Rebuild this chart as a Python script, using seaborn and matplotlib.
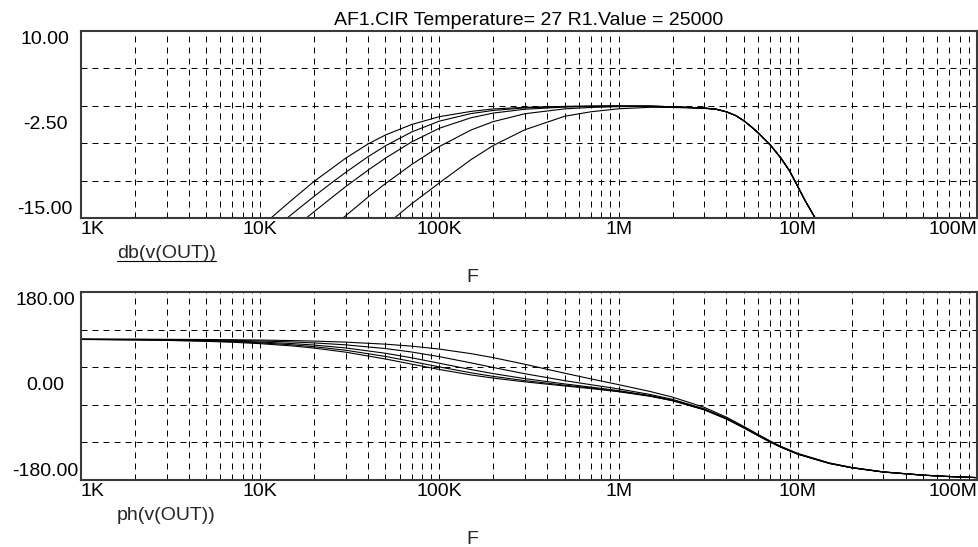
import numpy as np
import pandas as pd
import matplotlib
matplotlib.use("Agg")
import matplotlib.pyplot as plt
import seaborn as sns
from matplotlib.lines import Line2D
from matplotlib.ticker import FixedLocator, NullFormatter

sns.set_theme(style="white")
plt.rcParams["font.family"] = ["Liberation Sans", "DejaVu Sans"]

# ---------------- data ----------------
TITLE = "AF1.CIR Temperature= 27 R1.Value = 25000"
curves = ["c1", "c2", "c3", "c4", "c5"]

mag_freq = [10e3, 12e3, 15e3, 20e3, 25e3, 30e3, 40e3, 50e3, 70e3, 100e3, 150e3, 200e3,
            300e3, 500e3, 700e3, 1e6, 1.5e6, 2e6, 3e6, 3.5e6, 4e6, 4.5e6, 5e6, 5.5e6,
            6e6, 7e6, 8e6, 9e6, 10e6, 11e6, 12.5e6, 13e6]
mag_c1 = [-16.3, -14.6, -12.6, -10.1, -8.4, -7.0, -5.1, -3.9, -2.5, -1.45, -0.75, -0.42,
          -0.2, -0.08, -0.04, -0.02, -0.04, -0.13, -0.3, -0.45, -0.8, -1.3, -2.0, -2.8,
          -3.6, -5.2, -6.9, -8.7, -10.8, -12.7, -15.0, -15.7]
mag_c2 = [-17.9, -16.4, -14.5, -12.1, -10.3, -8.9, -6.8, -5.35, -3.5, -2.05, -1.04, -0.62,
          -0.28, -0.10, -0.05, -0.03, -0.04, -0.13, -0.3, -0.45, -0.8, -1.3, -2.0, -2.8,
          -3.6, -5.2, -6.9, -8.7, -10.8, -12.7, -15.0, -15.7]
mag_c3 = [-20.0, -18.5, -16.6, -14.15, -12.3, -10.8, -8.6, -7.0, -4.83, -3.0, -1.6, -0.97,
          -0.46, -0.17, -0.09, -0.04, -0.05, -0.13, -0.3, -0.45, -0.8, -1.3, -2.0, -2.8,
          -3.6, -5.2, -6.9, -8.7, -10.8, -12.7, -15.0, -15.7]
mag_c4 = [-24.0, -22.4, -20.5, -18.1, -16.2, -14.7, -12.2, -10.4, -7.85, -5.44, -3.24, -2.11,
          -1.06, -0.41, -0.22, -0.11, -0.08, -0.15, -0.31, -0.45, -0.8, -1.3, -2.0, -2.8,
          -3.6, -5.2, -6.9, -8.7, -10.8, -12.7, -15.0, -15.7]
mag_c5 = [-29.8, -28.2, -26.3, -23.8, -21.9, -20.4, -17.9, -16.0, -13.1, -10.3, -7.2, -5.3,
          -3.2, -1.4, -0.8, -0.4, -0.2, -0.22, -0.35, -0.48, -0.82, -1.32, -2.0, -2.8,
          -3.6, -5.2, -6.9, -8.7, -10.8, -12.7, -15.0, -15.7]

ph_freq = [1e3, 2e3, 3e3, 5e3, 7e3, 10e3, 15e3, 20e3, 30e3, 50e3, 70e3, 100e3, 150e3,
           200e3, 300e3, 500e3, 700e3, 1e6, 1.5e6, 2e6, 3e6, 4e6, 5e6, 6e6, 7e6, 8e6,
           10e6, 15e6, 20e6, 30e6, 50e6, 70e6, 100e6]
ph_c1 = [89.1, 88.2, 87.3, 85.5, 83.8, 81.1, 76.8, 72.6, 64.8, 51.7, 41.9, 31.6, 21.2,
         15.1, 7.9, 0.1, -4.9, -10.9, -19.7, -28.2, -45.5, -63.2, -80.2, -95.0, -107.1,
         -116.8, -130.5, -148.3, -156.6, -164.8, -170.8, -173.5, -175.5]
ph_c2 = [89.3, 88.5, 87.8, 86.3, 84.8, 82.6, 78.9, 75.3, 68.5, 56.6, 47.1, 36.5, 25.3,
         18.4, 10.3, 1.6, -3.8, -10.1, -19.2, -27.9, -45.2, -63.0, -80.0, -94.9, -107.0,
         -116.7, -130.5, -148.2, -156.6, -164.8, -170.8, -173.4, -175.5]
ph_c3 = [89.4, 88.8, 88.2, 87.1, 85.9, 84.2, 81.3, 78.4, 72.9, 62.7, 54.0, 43.6, 31.5,
         23.7, 14.1, 4.0, -2.1, -8.9, -18.4, -27.2, -44.8, -62.7, -79.8, -94.7, -106.8,
         -116.6, -130.3, -148.1, -156.5, -164.7, -170.8, -173.4, -175.4]
ph_c4 = [89.6, 89.2, 88.9, 88.1, 87.4, 86.2, 84.4, 82.5, 78.8, 71.7, 65.1, 56.2, 44.3,
         35.4, 23.5, 10.2, 2.5, -5.6, -16.2, -25.6, -43.7, -61.8, -79.1, -94.1, -106.3,
         -116.2, -130.0, -147.9, -156.4, -164.6, -170.7, -173.4, -175.4]
ph_c5 = [89.8, 89.6, 89.4, 89.0, 88.6, 88.0, 87.0, 86.0, 84.0, 80.1, 76.3, 70.7, 62.0,
         54.3, 41.6, 24.5, 13.7, 2.6, -10.5, -21.3, -40.8, -59.7, -77.4, -92.6, -105.1,
         -115.1, -129.1, -147.3, -155.9, -164.3, -170.5, -173.3, -175.3]

x_ticks = [1e3, 1e4, 1e5, 1e6, 1e7, 1e8]
x_ticklabels = ["1K", "10K", "100K", "1M", "10M", "100M"]
mag_ticks = [10, -2.5, -15]
mag_ticklabels = ["10.00", "-2.50", "-15.00"]
mag_grid = [5, 0, -5, -10]
ph_ticks = [180, 0, -180]
ph_ticklabels = ["180.00", "0.00", "-180.00"]
ph_grid = [108, 36, -36, -108]
mag_label = "db(v(OUT))"
ph_label = "ph(v(OUT))"
x_name = "F"

mag_df = pd.concat([pd.DataFrame({"F": mag_freq, "val": v, "curve": c})
                    for c, v in zip(curves, [mag_c1, mag_c2, mag_c3, mag_c4, mag_c5])])
ph_df = pd.concat([pd.DataFrame({"F": ph_freq, "val": v, "curve": c})
                   for c, v in zip(curves, [ph_c1, ph_c2, ph_c3, ph_c4, ph_c5])])

# ---------------- figure ----------------
W, H = 979, 547
fig = plt.figure(figsize=(W / 100, H / 100), dpi=100)
fig.patch.set_facecolor("white")

def px_rect(l, t, r, b):
    return [l / W, 1 - b / H, (r - l) / W, (b - t) / H]

ax1 = fig.add_axes(px_rect(81, 31, 977, 218))
ax2 = fig.add_axes(px_rect(81, 292, 977, 480))

FS = 14
minor_x = [m * 10 ** e for e in range(3, 8) for m in range(2, 10)]

def style(ax, df, yticks, ylabels, ygrid, ylim):
    ax.set_xscale("log")
    sns.lineplot(data=df, x="F", y="val", units="curve", estimator=None,
                 color="black", linewidth=0.8, ax=ax, legend=False, sort=False)
    ax.set_xlim(1e3, 1e8)
    ax.set_ylim(*ylim)
    ax.set_xlabel("")
    ax.set_ylabel("")
    ax.set_facecolor("white")
    ax.xaxis.set_major_locator(FixedLocator(x_ticks))
    ax.xaxis.set_minor_locator(FixedLocator(minor_x))
    ax.xaxis.set_minor_formatter(NullFormatter())
    ax.set_xticklabels(x_ticklabels)
    ax.yaxis.set_major_locator(FixedLocator(yticks))
    ax.set_yticklabels(ylabels)
    ax.yaxis.set_minor_locator(FixedLocator(ygrid))
    ax.tick_params(which="both", length=0, labelsize=FS, colors="black")
    ax.tick_params(axis="x", pad=2)
    ax.tick_params(axis="y", pad=26)
    dash = (0, (6, 5))
    ax.grid(False)
    ax.grid(which="major", axis="x", color="black", linestyle=dash, linewidth=0.72)
    ax.grid(which="minor", axis="both", color="black", linestyle=dash, linewidth=0.72)
    ax.set_axisbelow(True)
    for s in ax.spines.values():
        s.set_visible(True)
        s.set_color("#3a3a3a")
        s.set_linewidth(1.5)
    xl = ax.get_xticklabels()
    xl[0].set_ha("left")
    xl[-1].set_ha("right")
    yl = ax.get_yticklabels()
    for lab in yl:
        lab.set_ha("center")
    yl[0].set_va("top")
    yl[1].set_va("center")
    yl[2].set_va("bottom")

style(ax1, mag_df, mag_ticks, mag_ticklabels, mag_grid, (-15, 10))
style(ax2, ph_df, ph_ticks, ph_ticklabels, ph_grid, (-180, 180))

ax1.set_title(TITLE, fontsize=FS, pad=4, color="black")

t1 = fig.text(117 / W, 1 - 254 / H, mag_label, fontsize=FS, va="center", ha="left")
fig.text(472 / W, 1 - 278 / H, x_name, fontsize=FS, va="center", ha="center")
fig.text(117 / W, 1 - 515 / H, ph_label, fontsize=FS, va="center", ha="left")
fig.text(472 / W, 1 - 539 / H, x_name, fontsize=FS, va="center", ha="center")

fig.canvas.draw()
bb = t1.get_window_extent()
uy = bb.y0 + 1
fig.add_artist(Line2D([bb.x0 / W, bb.x1 / W], [uy / H, uy / H], color="black",
                      linewidth=0.8, transform=fig.transFigure))

fig.savefig("out.png", dpi=100)
